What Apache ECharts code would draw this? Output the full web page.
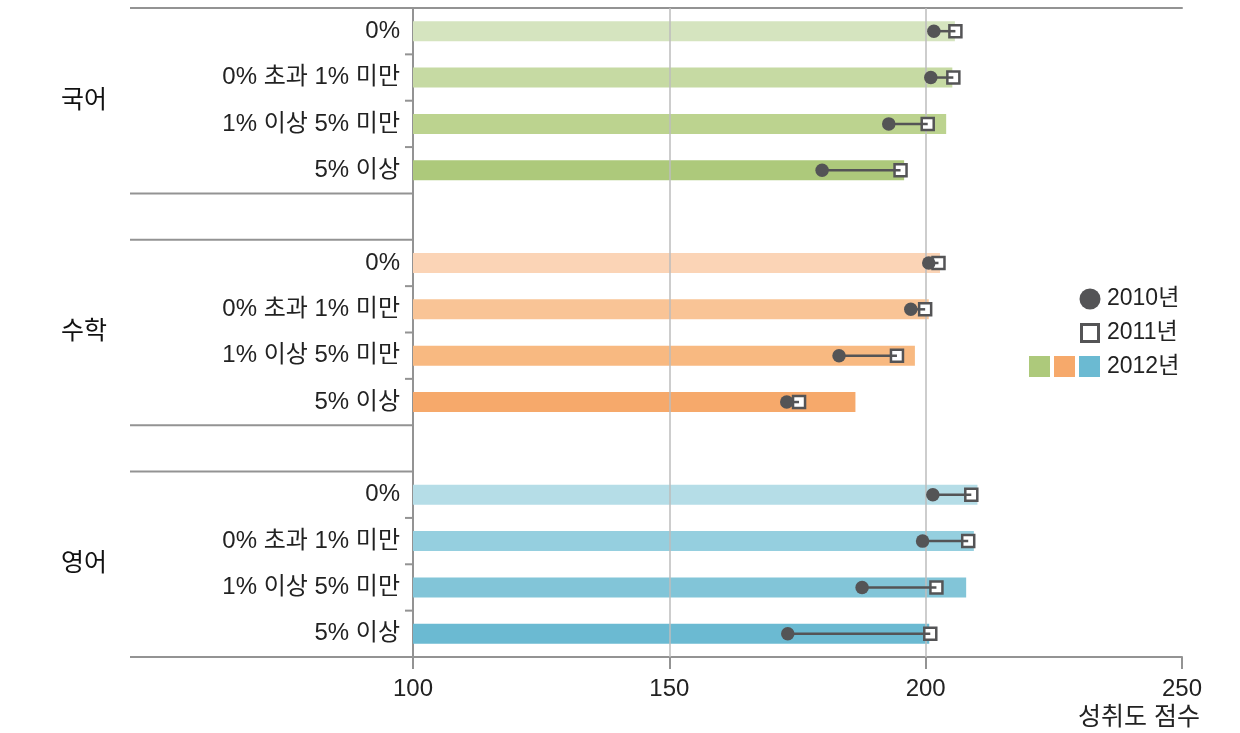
<!DOCTYPE html>
<html>
<head>
<meta charset="utf-8">
<script src="https://cdn.jsdelivr.net/npm/echarts@6/dist/echarts.min.js"></script>
<style>
html,body{margin:0;padding:0;background:#fff;}
#c{width:1240px;height:733px;}
</style>
</head>
<body>
<div id="c"></div>
<script>
// ---- data ----
const subjects = ['국어', '수학', '영어'];
const levels = ['0%', '0% 초과 1% 미만', '1% 이상 5% 미만', '5% 이상'];
const xTicks = [100, 150, 200, 250];
const xAxisTitle = '성취도 점수';
const legendNames = ['2010년', '2011년', '2012년'];

// 2012 (bars)
const kor2012 = [205.7, 205.2, 204.0, 195.8];
const math2012 = [202.8, 200.6, 197.9, 186.3];
const eng2012 = [210.1, 209.4, 207.9, 200.7];
// 2010 (circles)
const kor2010 = [201.6, 201.0, 192.8, 179.8];
const math2010 = [200.6, 197.1, 183.1, 172.9];
const eng2010 = [201.4, 199.4, 187.6, 173.1];
// 2011 (squares)
const kor2011 = [205.8, 205.4, 200.4, 195.1];
const math2011 = [202.5, 199.9, 194.4, 175.3];
const eng2011 = [208.9, 208.3, 202.1, 200.9];

// ---- styles ----
const greenShades = ['#d5e4bf', '#c6daa3', '#bcd38f', '#adc97b'];
const orangeShades = ['#fbd4b6', '#f9c496', '#f8b981', '#f6a96b'];
const blueShades = ['#b5dde7', '#95cfdf', '#82c5d8', '#6bbad2'];
const shades = [greenShades, orangeShades, blueShades];
const dark = '#545456';
const lineGray = '#939393';
const FONT = "'Liberation Sans', 'Noto Sans CJK KR', sans-serif";
const TXT = '#222';

const v2012 = [kor2012, math2012, eng2012];
const v2010 = [kor2010, math2010, eng2010];
const v2011 = [kor2011, math2011, eng2011];

// build rows: 4 levels per subject with a gap row between subjects
const cats = [];
const barData = [];
const circData = [];
const sqData = [];
const segData = [];
subjects.forEach((s, si) => {
  levels.forEach((lv, li) => {
    const idx = cats.length;
    cats.push(s + '|' + lv);
    barData.push({ value: [v2012[si][li], idx], itemStyle: { color: shades[si][li] } });
    circData.push([v2010[si][li], idx]);
    sqData.push([v2011[si][li], idx]);
    segData.push([v2010[si][li], v2011[si][li], idx]);
  });
  if (si < subjects.length - 1) cats.push('gap' + si + '|');
});

const chart = echarts.init(document.getElementById('c'), null, { renderer: 'canvas' });

const option = {
  animation: false,
  backgroundColor: '#fff',
  textStyle: { fontFamily: FONT },
  grid: { left: 413, right: 58, top: 8, bottom: 76, containLabel: false },
  xAxis: [{
    type: 'value', min: xTicks[0], max: xTicks[xTicks.length - 1], interval: 50, startValue: xTicks[0],
    position: 'bottom',
    axisLine: { show: true, lineStyle: { color: lineGray, width: 2 } },
    axisTick: { show: true, length: 12, lineStyle: { color: lineGray, width: 2 } },
    axisLabel: { fontSize: 24, color: TXT, margin: 20, fontFamily: FONT },
    splitLine: { show: false }
  }, {
    type: 'value', min: xTicks[0], max: xTicks[xTicks.length - 1], interval: 50,
    position: 'top',
    axisLine: { show: true, lineStyle: { color: lineGray, width: 2 } },
    axisTick: { show: false }, axisLabel: { show: false }, splitLine: { show: false }
  }],
  yAxis: {
    type: 'category', inverse: true, data: cats,
    axisLine: { show: true, lineStyle: { color: lineGray, width: 2 } },
    axisTick: { show: false },
    axisLabel: {
      fontSize: 24, color: TXT, margin: 13, fontFamily: FONT,
      formatter: v => v.split('|')[1]
    },
    splitLine: { show: false }
  },
  series: [
    {
      type: 'bar', data: barData, barWidth: 20, z: 1,
      encode: { x: 0, y: 1 },
      markLine: {
        silent: true, symbol: 'none', label: { show: false }, z: 2,
        lineStyle: { color: '#bdbdbd', width: 1.5, type: 'solid' },
        data: [{ xAxis: xTicks[1] }, { xAxis: xTicks[2] }]
      }
    },
    {
      type: 'scatter', data: sqData, symbol: 'rect', symbolSize: 12, z: 3,
      itemStyle: { color: '#fff', borderColor: dark, borderWidth: 2.5, opacity: 1 }
    },
    {
      type: 'custom', data: segData, z: 4,
      encode: { x: [0, 1], y: 2 },
      renderItem: (params, api) => {
        const p1 = api.coord([api.value(0), api.value(2)]);
        const p2 = api.coord([api.value(1), api.value(2)]);
        return {
          type: 'line',
          shape: { x1: p1[0], y1: p1[1], x2: p2[0], y2: p2[1] },
          style: { stroke: dark, lineWidth: 2.5 }
        };
      }
    },
    {
      type: 'scatter', data: circData, symbol: 'circle', symbolSize: 13.5, z: 5,
      itemStyle: { color: dark, opacity: 1 }
    }
  ]
};
chart.setOption(option);

// ---- decorations derived from the axes ----
const yOf = i => chart.convertToPixel({ yAxisIndex: 0 }, i);
const band = yOf(1) - yOf(0);
const leftX = 130, axisX = 413;
const g = [];
const boundary = i => yOf(i) - band / 2;
let start = 0;
subjects.forEach((s, si) => {
  const top = boundary(start);
  const bottom = boundary(start + levels.length);
  g.push({ type: 'line', shape: { x1: leftX, y1: top, x2: axisX, y2: top }, style: { stroke: lineGray, lineWidth: 2 }, z: 10 });
  g.push({ type: 'line', shape: { x1: leftX, y1: bottom, x2: axisX, y2: bottom }, style: { stroke: lineGray, lineWidth: 2 }, z: 10 });
  for (let k = 1; k < levels.length; k++) {
    const y = boundary(start + k);
    g.push({ type: 'line', shape: { x1: axisX - 8, y1: y, x2: axisX, y2: y }, style: { stroke: lineGray, lineWidth: 2 }, z: 10 });
  }
  const cy = (top + bottom) / 2;
  g.push({ type: 'text', x: 84, y: cy, style: { text: s, fontSize: 25, fill: '#111', fontFamily: FONT, align: 'center', verticalAlign: 'middle' }, z: 10 });
  start += levels.length + 1;
});
// axis title
g.push({ type: 'text', x: 1200, y: 718, style: { text: xAxisTitle, fontSize: 25, fill: TXT, fontFamily: FONT, align: 'right', verticalAlign: 'middle' } });
// legend
g.push({ type: 'circle', shape: { cx: 1090, cy: 299, r: 10.5 }, style: { fill: dark } });
g.push({ type: 'text', x: 1107, y: 299, style: { text: legendNames[0], fontSize: 23, fill: TXT, fontFamily: FONT, verticalAlign: 'middle' } });
g.push({ type: 'rect', shape: { x: 1081.5, y: 324.5, width: 17, height: 17 }, style: { fill: '#fff', stroke: dark, lineWidth: 3 } });
g.push({ type: 'text', x: 1107, y: 333, style: { text: legendNames[1], fontSize: 23, fill: TXT, fontFamily: FONT, verticalAlign: 'middle' } });
[greenShades[3], orangeShades[3], blueShades[3]].forEach((c, i) => {
  g.push({ type: 'rect', shape: { x: 1029 + i * 25, y: 356, width: 21, height: 21 }, style: { fill: c } });
});
g.push({ type: 'text', x: 1107, y: 367, style: { text: legendNames[2], fontSize: 23, fill: TXT, fontFamily: FONT, verticalAlign: 'middle' } });

chart.setOption({ graphic: { elements: g } });
</script>
</body>
</html>
